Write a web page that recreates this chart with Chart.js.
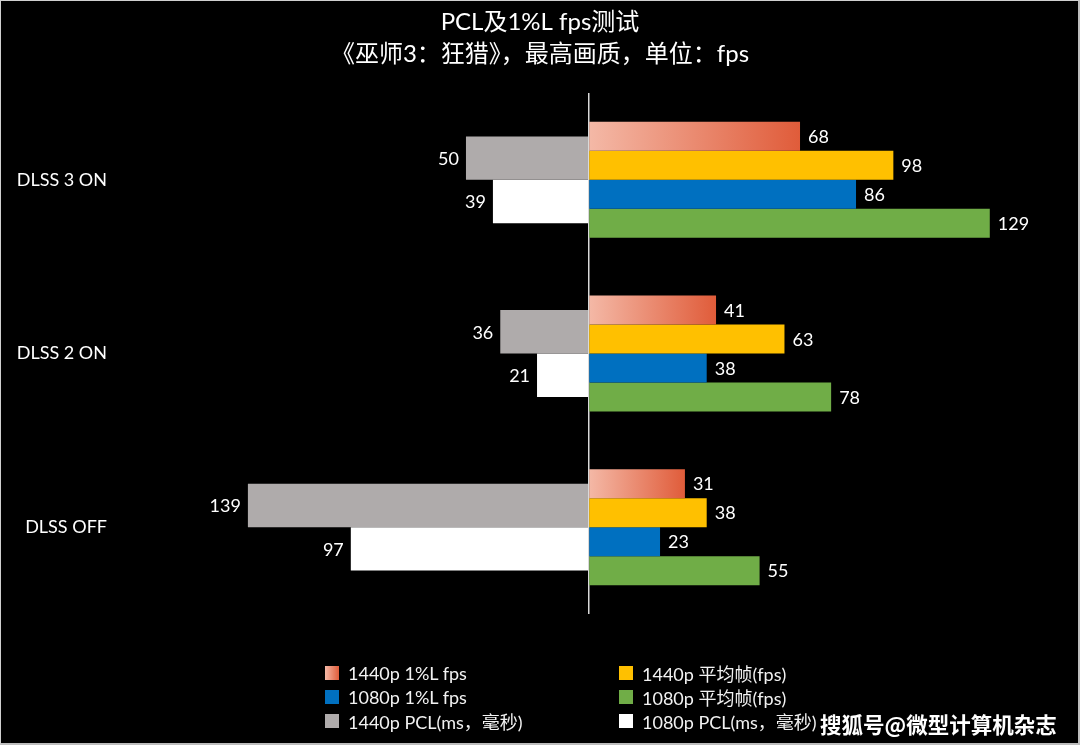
<!DOCTYPE html>
<html><head><meta charset="utf-8">
<script src="https://cdn.jsdelivr.net/npm/chart.js@4.4.1/dist/chart.umd.min.js"></script>
<style>
html,body{margin:0;padding:0;background:#000;}
#wrap{position:relative;width:1080px;height:745px;background:#000;overflow:hidden;}
canvas{position:absolute;left:0;top:0;}
#frame{position:absolute;left:0;top:0;width:1080px;height:745px;box-sizing:border-box;border-top:1px solid #d0d0d0;border-left:1px solid #d0d0d0;border-right:2px solid #bdbdbd;border-bottom:2px solid #bdbdbd;pointer-events:none;}
.lg{position:absolute;height:24px;display:flex;align-items:center;font:18px Lato,"Noto Sans CJK SC",sans-serif;color:#f2f2f2;white-space:nowrap;}
.sw{width:14px;height:14px;margin-right:9px;flex:none;}
#wm{position:absolute;left:820px;top:708px;line-height:24px;font:bold 21.5px "Noto Sans CJK SC",sans-serif;color:#fff;text-shadow:0 0 2px #000,0 0 2px #000;white-space:nowrap;}
</style></head><body>
<div id="wrap">
<canvas id="cLeft" width="1080" height="745"></canvas>
<canvas id="cMain" width="1080" height="745"></canvas>
<div id="legend"></div><div id="wm">搜狐号@微型计算机杂志</div><div id="frame"></div></div>
<script>
const categories = ['DLSS 3 ON', 'DLSS 2 ON', 'DLSS OFF'];
const fps1440Low = [68, 41, 31];
const fps1440Avg = [98, 63, 38];
const fps1080Low = [86, 38, 23];
const fps1080Avg = [129, 78, 55];
const pcl1440 = [50, 36, 139];
const pcl1080 = [39, 21, 97];
const seriesNames = ['1440p 1%L fps', '1440p 平均帧(fps)', '1080p 1%L fps', '1080p 平均帧(fps)', '1440p PCL(ms，毫秒)', '1080p PCL(ms，毫秒)'];
const titleLines = ['PCL及1%L fps测试', '《巫师3：狂猎》，最高画质，单位：fps'];

const FONT = 'Lato, "Noto Sans CJK SC", sans-serif';
const GRAD_A = '#f4b9a7', GRAD_B = '#e05c3a';
const colors = ['grad', '#ffc000', '#0070c0', '#70ad47', '#afabab', '#ffffff'];

function gradFill(ctx) {
  const chart = ctx.chart;
  if (!chart.chartArea || ctx.type !== 'data') return GRAD_B;
  const xs = chart.scales.x;
  const v = ctx.parsed ? ctx.parsed.x : ctx.raw;
  const x0 = xs.getPixelForValue(0), x1 = xs.getPixelForValue(v);
  const g = chart.ctx.createLinearGradient(x0, 0, x1, 0);
  g.addColorStop(0, GRAD_A);
  g.addColorStop(1, GRAD_B);
  return g;
}

function makeLabels(side) {
  return {
    id: 'valueLabels',
    afterDatasetsDraw(chart) {
      const c = chart.ctx;
      c.save();
      c.font = '18px ' + FONT;
      c.fillStyle = '#ffffff';
      c.textBaseline = 'middle';
      c.textAlign = side === 'left' ? 'right' : 'left';
      chart.data.datasets.forEach((ds, i) => {
        chart.getDatasetMeta(i).data.forEach((el, j) => {
          c.fillText(String(ds.data[j]), side === 'left' ? el.x - 7 : el.x + 8, el.y + 1);
        });
      });
      c.restore();
    }
  };
}

const AREA_TOP = 93, AREA_LEFT = 120, AREA_BOTTOM_PAD = 131;

// Left chart: PCL (ms), bars growing leftwards from the shared zero line
new Chart(document.getElementById('cLeft'), {
  type: 'bar',
  data: {
    labels: categories,
    datasets: [
      {label: seriesNames[4], data: pcl1440, backgroundColor: colors[4]},
      {label: seriesNames[5], data: pcl1080, backgroundColor: colors[5]}
    ]
  },
  options: {
    indexAxis: 'y',
    responsive: false,
    animation: false,
    datasets: {bar: {categoryPercentage: 0.5, barPercentage: 1, borderWidth: 0}},
    layout: {padding: {left: AREA_LEFT, right: 0, top: AREA_TOP, bottom: AREA_BOTTOM_PAD}},
    plugins: {legend: {display: false}, tooltip: {enabled: false}, title: {display: false}},
    scales: {
      x: {type: 'linear', reverse: true, min: -200.6, max: 191.2, display: false},
      y: {type: 'category', display: false, offset: true}
    }
  },
  plugins: [makeLabels('left')]
});

// Main chart: fps bars growing rightwards, title, category labels, zero line
new Chart(document.getElementById('cMain'), {
  type: 'bar',
  data: {
    labels: categories,
    datasets: [
      {label: seriesNames[0], data: fps1440Low, backgroundColor: gradFill},
      {label: seriesNames[1], data: fps1440Avg, backgroundColor: colors[1]},
      {label: seriesNames[2], data: fps1080Low, backgroundColor: colors[2]},
      {label: seriesNames[3], data: fps1080Avg, backgroundColor: colors[3]}
    ]
  },
  options: {
    indexAxis: 'y',
    responsive: false,
    animation: false,
    datasets: {bar: {categoryPercentage: 0.668, barPercentage: 1, borderWidth: 0}},
    layout: {padding: {left: 0, right: 0, top: 0, bottom: AREA_BOTTOM_PAD}},
    plugins: {
      legend: {display: false},
      tooltip: {enabled: false},
      title: {
        display: true, text: titleLines, color: '#ffffff',
        font: {family: FONT, size: 24, weight: 'normal', lineHeight: 1.333},
        padding: {top: 6, bottom: 23}
      }
    },
    scales: {
      x: {
        type: 'linear', position: 'bottom', min: -150.6, max: 158,
        afterBuildTicks: s => { s.ticks = [{value: 0}]; },
        afterFit: s => { s.height = 0; },
        ticks: {display: false},
        border: {display: false},
        grid: {drawTicks: false, color: '#d9d9d9', lineWidth: 1.5}
      },
      y: {
        type: 'category', position: 'left', offset: true,
        afterFit: s => { s.width = AREA_LEFT; },
        grid: {display: false, drawTicks: false},
        border: {display: false},
        ticks: {color: '#ffffff', padding: 13, font: {family: FONT, size: 18}}
      }
    }
  },
  plugins: [makeLabels('right')]
});

// HTML legend: two columns, row-major in series order
const swatches = ['linear-gradient(to right,' + GRAD_A + ',' + GRAD_B + ')'].concat(colors.slice(1));
const colX = [325, 619];
const rowY = [673, 697, 721];
const lg = document.getElementById('legend');
seriesNames.forEach((name, i) => {
  const d = document.createElement('div');
  d.className = 'lg';
  d.style.left = colX[i % 2] + 'px';
  d.style.top = (rowY[Math.floor(i / 2)] - 12) + 'px';
  const s = document.createElement('span');
  s.className = 'sw';
  s.style.background = swatches[i];
  const t = document.createElement('span');
  t.textContent = name;
  d.appendChild(s);
  d.appendChild(t);
  lg.appendChild(d);
});
</script>
</body></html>
